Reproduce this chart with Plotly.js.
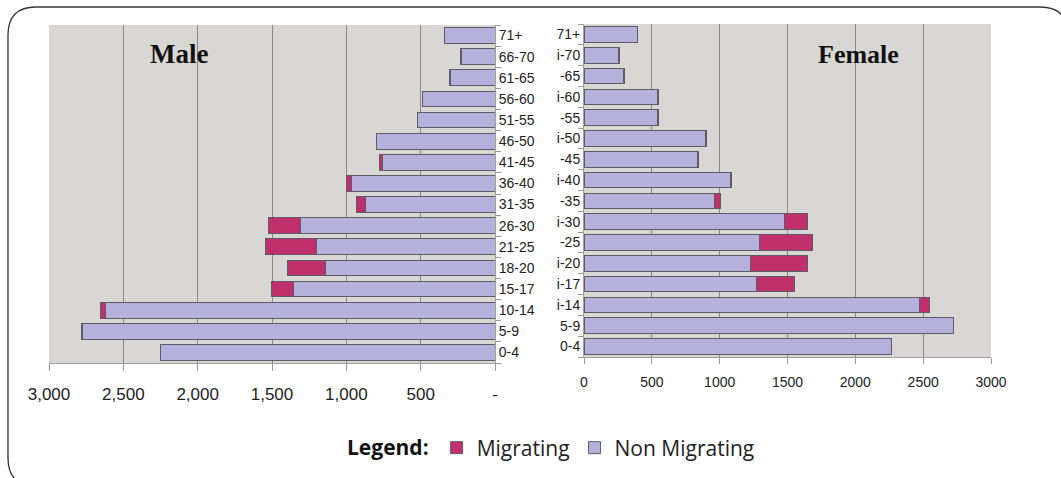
<!DOCTYPE html>
<html>
<head>
<meta charset="utf-8">
<script src="https://cdn.plot.ly/plotly-3.0.1.min.js"></script>
<style>
  html, body { margin: 0; padding: 0; background: #ffffff; }
  #chart { width: 1061px; height: 478px; }
</style>
</head>
<body>
<div id="chart"></div>
<script>
// ---- Data (bottom to top) ----
const ageGroups = ['0-4','5-9','10-14','15-17','18-20','21-25','26-30','31-35','36-40','41-45','46-50','51-55','56-60','61-65','66-70','71+'];
const femaleTickLabels = ['0-4','5-9','i-14','i-17','i-20','-25','i-30','-35','i-40','-45','i-50','-55','i-60','-65','i-70','71+'];

const maleNonMigrating = [2250, 2775, 2623, 1354, 1137, 1204, 1305, 870, 965, 760, 795, 518, 488, 300, 225, 338];
const maleMigrating    = [3, 8, 30, 152, 257, 340, 220, 60, 32, 15, 5, 5, 2, 3, 5, 5];
const femaleNonMigrating = [2267, 2726, 2476, 1271, 1227, 1291, 1480, 964, 1082, 838, 898, 544, 544, 293, 256, 392];
const femaleMigrating    = [0, 0, 73, 283, 420, 393, 167, 44, 5, 3, 4, 2, 2, 2, 2, 3];

const maleTickVals = [3000, 2500, 2000, 1500, 1000, 500, 0];
const maleTickText = ['3,000', '2,500', '2,000', '1,500', '1,000', '500', '-'];
const femaleTickVals = [0, 500, 1000, 1500, 2000, 2500, 3000];
const femaleTickText = ['0', '500', '1000', '1500', '2000', '2500', '3000'];

// ---- Styling ----
const W = 1061, H = 478;
const NM_COLOR = '#b5b1dc';
const M_COLOR = '#c0306c';
const OUTLINE = '#5c5b66';
const SANS = '"Liberation Sans", Arial, sans-serif';
const SERIF = '"Liberation Serif", "Times New Roman", serif';
const LEG = '"Open Sans", "Noto Sans", sans-serif';
const px = v => v / W;
const py = v => 1 - v / H;

const traces = [
  { type: 'bar', orientation: 'h', y: ageGroups, x: maleNonMigrating, xaxis: 'x', yaxis: 'y',
    name: 'Non Migrating', legendgroup: 'nm', showlegend: true,
    marker: { color: NM_COLOR, line: { color: OUTLINE, width: 1 } } },
  { type: 'bar', orientation: 'h', y: ageGroups, x: maleMigrating, xaxis: 'x', yaxis: 'y',
    name: 'Migrating', legendgroup: 'm', showlegend: true,
    marker: { color: M_COLOR, line: { color: OUTLINE, width: 1 } } },
  { type: 'bar', orientation: 'h', y: ageGroups, x: femaleNonMigrating, xaxis: 'x2', yaxis: 'y2',
    name: 'Non Migrating', legendgroup: 'nm', showlegend: false,
    marker: { color: NM_COLOR, line: { color: OUTLINE, width: 1 } } },
  { type: 'bar', orientation: 'h', y: ageGroups, x: femaleMigrating, xaxis: 'x2', yaxis: 'y2',
    name: 'Migrating', legendgroup: 'm', showlegend: false,
    marker: { color: M_COLOR, line: { color: OUTLINE, width: 1 } } }
];

// rounded frame
const fx0 = px(8), fx1 = px(1068), fyt = py(7), fyb = py(486);
const rx = 28 / W, ry = 28 / H;
const framePath = `M ${fx0 + rx},${fyt} L ${fx1 - rx},${fyt} Q ${fx1},${fyt} ${fx1},${fyt - ry} ` +
  `L ${fx1},${fyb + ry} Q ${fx1},${fyb} ${fx1 - rx},${fyb} L ${fx0 + rx},${fyb} ` +
  `Q ${fx0},${fyb} ${fx0},${fyb + ry} L ${fx0},${fyt - ry} Q ${fx0},${fyt} ${fx0 + rx},${fyt} Z`;

const layout = {
  width: W, height: H,
  margin: { l: 0, r: 0, t: 0, b: 0, pad: 0 },
  paper_bgcolor: '#ffffff',
  plot_bgcolor: '#d9d7d4',
  barmode: 'stack',
  bargap: 0.25,
  font: { family: SANS, color: '#222' },
  xaxis: {
    domain: [px(49), px(495)], anchor: 'y',
    range: [3000, 0], autorange: false,
    tickvals: maleTickVals, ticktext: maleTickText,
    tickfont: { family: SANS, size: 17, color: '#222' },
    ticks: 'outside', ticklen: 7, tickcolor: '#999', ticklabelstandoff: 9,
    showgrid: true, gridcolor: '#8a8a8a', gridwidth: 1,
    showline: true, linecolor: '#a0a0a0', zeroline: false, fixedrange: true
  },
  yaxis: {
    domain: [py(363), py(25)], anchor: 'x', side: 'right',
    type: 'category', categoryorder: 'array', categoryarray: ageGroups,
    tickson: 'boundaries', ticks: 'outside', ticklen: 5, tickcolor: '#999',
    tickfont: { family: SANS, size: 14, color: '#222' },
    showline: true, linecolor: '#a0a0a0', showgrid: false, zeroline: false, fixedrange: true
  },
  xaxis2: {
    domain: [px(584), px(991)], anchor: 'y2',
    range: [0, 3000], autorange: false,
    tickvals: femaleTickVals, ticktext: femaleTickText,
    tickfont: { family: SANS, size: 14, color: '#222' },
    ticks: 'outside', ticklen: 6, tickcolor: '#999', ticklabelstandoff: 6,
    showgrid: true, gridcolor: '#8a8a8a', gridwidth: 1,
    showline: true, linecolor: '#a0a0a0', zeroline: false, fixedrange: true
  },
  yaxis2: {
    domain: [py(357), py(24)], anchor: 'x2', side: 'left',
    type: 'category', categoryorder: 'array', categoryarray: ageGroups,
    tickvals: ageGroups, ticktext: femaleTickLabels,
    tickson: 'boundaries', ticks: 'outside', ticklen: 5, tickcolor: '#999',
    tickfont: { family: SANS, size: 14, color: '#222' },
    showline: true, linecolor: '#a0a0a0', showgrid: false, zeroline: false, fixedrange: true
  },
  showlegend: true,
  legend: {
    orientation: 'h', traceorder: 'reversed',
    x: px(345), xanchor: 'left', y: py(448), yanchor: 'middle',
    font: { family: LEG, size: 21, color: '#222' },
    title: { text: '<b>Legend:</b>', side: 'left', font: { family: LEG, size: 21, color: '#111' } },
    bgcolor: 'rgba(0,0,0,0)', itemclick: false, itemdoubleclick: false
  },
  annotations: [
    { text: '<b>Male</b>', xref: 'paper', yref: 'paper', x: px(179), y: py(54),
      xanchor: 'center', yanchor: 'middle', showarrow: false,
      font: { family: SERIF, size: 27, color: '#111' } },
    { text: '<b>Female</b>', xref: 'paper', yref: 'paper', x: px(858), y: py(54),
      xanchor: 'center', yanchor: 'middle', showarrow: false,
      font: { family: SERIF, size: 26, color: '#111' } }
  ],
  shapes: [
    { type: 'path', xref: 'paper', yref: 'paper', path: framePath,
      line: { color: '#333', width: 1.3 }, fillcolor: 'rgba(0,0,0,0)', layer: 'above' }
  ]
};

Plotly.newPlot('chart', traces, layout, { displayModeBar: false, staticPlot: true });
</script>
</body>
</html>
